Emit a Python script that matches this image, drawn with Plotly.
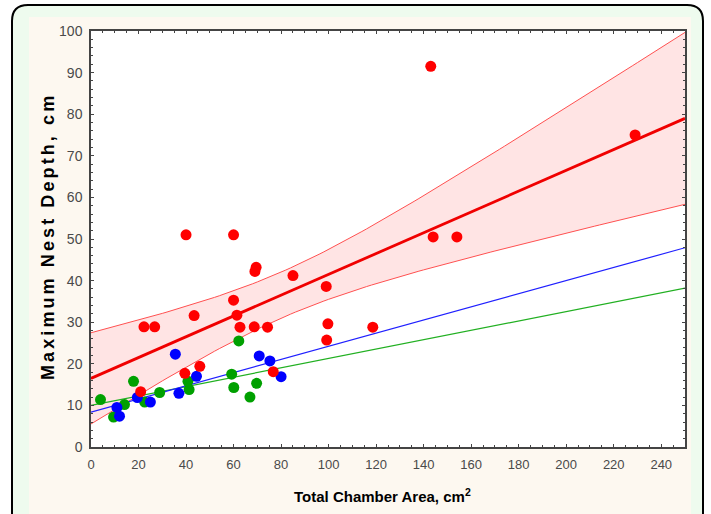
import numpy as np
import plotly.graph_objects as go

# ---------------- data ----------------
red_x = [143, 229, 40, 60, 144, 154, 69, 69.5, 85, 99, 60, 43.4, 61.4, 22.3, 26.8,
         62.7, 68.7, 74.3, 99.7, 99.2, 118.6, 39.5, 45.8, 20.9, 76.7]
red_y = [91.5, 75, 51, 51, 50.5, 50.5, 42.2, 43.2, 41.2, 38.6, 35.3, 31.6, 31.7, 28.9, 28.9,
         28.8, 28.9, 28.8, 29.6, 25.7, 28.8, 17.7, 19.4, 13.3, 18.1]

blue_x = [35.5, 37.0, 44.4, 25.0, 19.5, 10.9, 12.0, 70.8, 75.3, 80.0]
blue_y = [22.3, 12.9, 17.0, 10.8, 11.9, 9.5, 7.4, 21.9, 20.7, 16.9]

green_x = [4.0, 17.9, 28.9, 40.8, 41.3, 22.6, 14.1, 9.5, 59.2, 60.1, 62.2, 69.7, 66.9]
green_y = [11.4, 15.8, 13.1, 15.8, 13.8, 10.8, 10.2, 7.2, 17.5, 14.3, 25.5, 15.3, 12.0]

# fitted lines as printed in the reference: (intercept, slope)
red_fit_coef = [16.5, 0.25]
blue_fit_coef = [8.4, 0.158]
green_fit_coef = [10.0, 0.1128]

x_ticks = list(range(0, 241, 20))
y_ticks = list(range(0, 101, 10))

T_CRIT = 2.069  # t(0.975, n-2) for the red series

# ---------------- fits ----------------
xs = np.linspace(0, 250, 126)
rxa = np.asarray(red_x, float)
rya = np.asarray(red_y, float)
ra, rb = red_fit_coef
n = len(rxa)
resid = rya - (ra + rb * rxa)
s = np.sqrt(np.sum(resid ** 2) / (n - 2))
xm = rxa.mean()
sxx = np.sum((rxa - xm) ** 2)
half = T_CRIT * s * np.sqrt(1.0 / n + (xs - xm) ** 2 / sxx)
red_fit = ra + rb * xs
upper = red_fit + half
lower = red_fit - half
blue_fit = blue_fit_coef[0] + blue_fit_coef[1] * xs
green_fit = green_fit_coef[0] + green_fit_coef[1] * xs

RED = "#ff0000"
BLUE = "#0000ff"
GREEN = "#00a000"

fig = go.Figure()

# confidence band
fig.add_trace(go.Scatter(x=xs, y=lower, mode="lines", line=dict(color="#ff5050", width=1),
                         hoverinfo="skip", showlegend=False))
fig.add_trace(go.Scatter(x=xs, y=upper, mode="lines", line=dict(color="#ff5050", width=1),
                         fill="tonexty", fillcolor="rgba(255,205,205,0.55)",
                         hoverinfo="skip", showlegend=False))
# regression lines
fig.add_trace(go.Scatter(x=xs, y=green_fit, mode="lines", line=dict(color="#22b022", width=1.2),
                         showlegend=False))
fig.add_trace(go.Scatter(x=xs, y=blue_fit, mode="lines", line=dict(color="#2020ff", width=1.2),
                         showlegend=False))
fig.add_trace(go.Scatter(x=xs, y=red_fit, mode="lines", line=dict(color="#f00000", width=2.8),
                         showlegend=False))
# points
for xx, yy, c in [(green_x, green_y, GREEN), (blue_x, blue_y, BLUE), (red_x, red_y, RED)]:
    fig.add_trace(go.Scatter(x=xx, y=yy, mode="markers",
                             marker=dict(color=c, size=11, line=dict(width=0)),
                             showlegend=False))

# ---------------- layout ----------------
W, H = 711, 514
ML, MR, MT, MB = 91, 26, 31, 67
PW, PH = W - ML - MR, H - MT - MB


def px(x):
    return (x - ML) / PW


def py(y):
    return (H - MB - y) / PH


def rounded(l, t, r, b, rad):
    return (f"M {px(l)},{py(t + rad)} Q {px(l)},{py(t)} {px(l + rad)},{py(t)} "
            f"L {px(r - rad)},{py(t)} Q {px(r)},{py(t)} {px(r)},{py(t + rad)} "
            f"L {px(r)},{py(b)} L {px(l)},{py(b)} Z")


shapes = [
    dict(type="path", xref="paper", yref="paper", path=rounded(12, 5, 703, 560, 16),
         fillcolor="#eefbee", line=dict(color="black", width=2), layer="below"),
    dict(type="rect", xref="paper", yref="paper", x0=px(29), x1=px(691), y0=py(17), y1=py(560),
         fillcolor="#fdf8f0", line=dict(width=0), layer="below"),
    dict(type="rect", xref="paper", yref="paper", x0=0, x1=1, y0=0, y1=1,
         fillcolor="white", line=dict(width=0), layer="below"),
]

annotations = [
    dict(text="<b>Total Chamber Area, cm<sup>2</sup></b>", xref="paper", yref="paper",
         x=px(382), y=py(496), xanchor="center", yanchor="middle", showarrow=False,
         font=dict(family="Liberation Sans Narrow, Liberation Sans, Arial", size=15, color="black")),
    dict(text="<b><span style=\"letter-spacing:3.1px\">Maximum Nest Depth, cm</span></b>",
         xref="paper", yref="paper", x=px(48), y=py(237), xanchor="center", yanchor="middle",
         textangle=-90, showarrow=False,
         font=dict(family="Liberation Sans, Arial", size=18, color="black")),
]

fig.update_layout(
    width=W, height=H,
    margin=dict(l=ML, r=MR, t=MT, b=MB, autoexpand=False),
    paper_bgcolor="white",
    plot_bgcolor="white",
    shapes=shapes,
    annotations=annotations,
    xaxis=dict(range=[0, 250], tickvals=x_ticks, ticktext=[str(v) for v in x_ticks],
               ticks="inside", ticklen=3, tickcolor="#444", showgrid=False, zeroline=False,
               showline=True, linecolor="#444", linewidth=1.5, mirror="allticks",
               minor=dict(dtick=5, ticks="inside", ticklen=2, tickcolor="#444"),
               ticklabelstandoff=5,
               tickfont=dict(family="Liberation Sans Narrow, Liberation Sans, Arial", size=13,
                             color="#4a4a4a")),
    yaxis=dict(range=[0, 100], tickvals=y_ticks, ticktext=[str(v) for v in y_ticks],
               ticks="inside", ticklen=3, tickcolor="#444", showgrid=False, zeroline=False,
               showline=True, linecolor="#444", linewidth=1.5, mirror="allticks",
               minor=dict(dtick=2, ticks="inside", ticklen=2, tickcolor="#444"),
               ticklabelstandoff=4,
               tickfont=dict(family="Liberation Sans Narrow, Liberation Sans, Arial", size=14,
                             color="#4a4a4a")),
)

fig.write_html("out.html", config={"displayModeBar": False},
               post_script="document.body.style.margin='0';document.body.style.overflow='hidden';")
